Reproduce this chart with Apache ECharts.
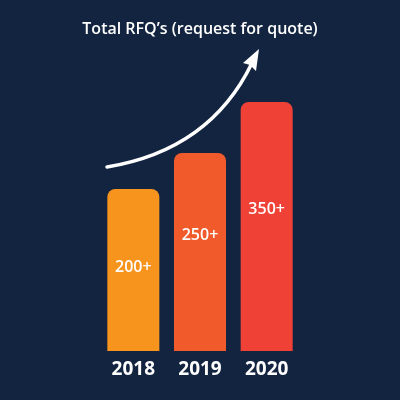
<!DOCTYPE html>
<html>
<head>
<meta charset="utf-8">
<script src="https://cdn.jsdelivr.net/npm/echarts@6/dist/echarts.min.js"></script>
<style>
html,body{margin:0;padding:0;background:#12243f;}
#c{width:400px;height:400px;}
</style>
</head>
<body>
<div id="c"></div>
<script>
// Data
const categories = ['2018', '2019', '2020'];
const barHeights = [162, 198, 249];          // relative bar heights as drawn
const valueLabels = ['200+', '250+', '350+']; // labels printed inside bars
const titleText = 'Total RFQ\u2019s (request for quote)';

const barColors = ['#f7941d', '#f15a2b', '#ef4136'];
const labelDistance = [70, 74, 99];

const chart = echarts.init(document.getElementById('c'), null, {renderer: 'canvas'});
chart.setOption({
  backgroundColor: '#12243f',
  animation: false,
  title: {
    text: titleText,
    left: 'center',
    top: 16,
    textStyle: {color: '#ffffff', fontFamily: 'Open Sans', fontWeight: 600, fontSize: 16}
  },
  grid: {left: 100, right: 100, top: 51, bottom: 49},
  xAxis: {
    type: 'category',
    data: categories,
    axisLine: {show: false},
    axisTick: {show: false},
    axisLabel: {color: '#ffffff', fontFamily: 'Open Sans', fontWeight: 700, fontSize: 19, margin: 9}
  },
  yAxis: {
    type: 'value', min: 0, max: 300,
    show: false, splitLine: {show: false}
  },
  series: [{
    type: 'bar',
    barWidth: '78%',
    data: barHeights.map((v, i) => ({
      value: v,
      itemStyle: {color: barColors[i], borderRadius: [8, 8, 0, 0]},
      label: {
        show: true, position: 'insideTop', distance: labelDistance[i],
        formatter: valueLabels[i],
        color: '#ffffff', fontFamily: 'Open Sans', fontWeight: 600, fontSize: 16
      }
    }))
  }],
  graphic: [
    {
      type: 'bezierCurve',
      shape: {x1: 107, y1: 167, cpx1: 210, cpy1: 150, x2: 252, y2: 63},
      style: {stroke: '#ffffff', lineWidth: 3.5, fill: null, lineCap: 'round'},
      z: 10
    },
    {
      type: 'polygon',
      shape: {points: [[259, 49], [243, 63], [250, 65], [256, 71]]},
      style: {fill: '#ffffff'},
      z: 11
    }
  ]
});
</script>
</body>
</html>
